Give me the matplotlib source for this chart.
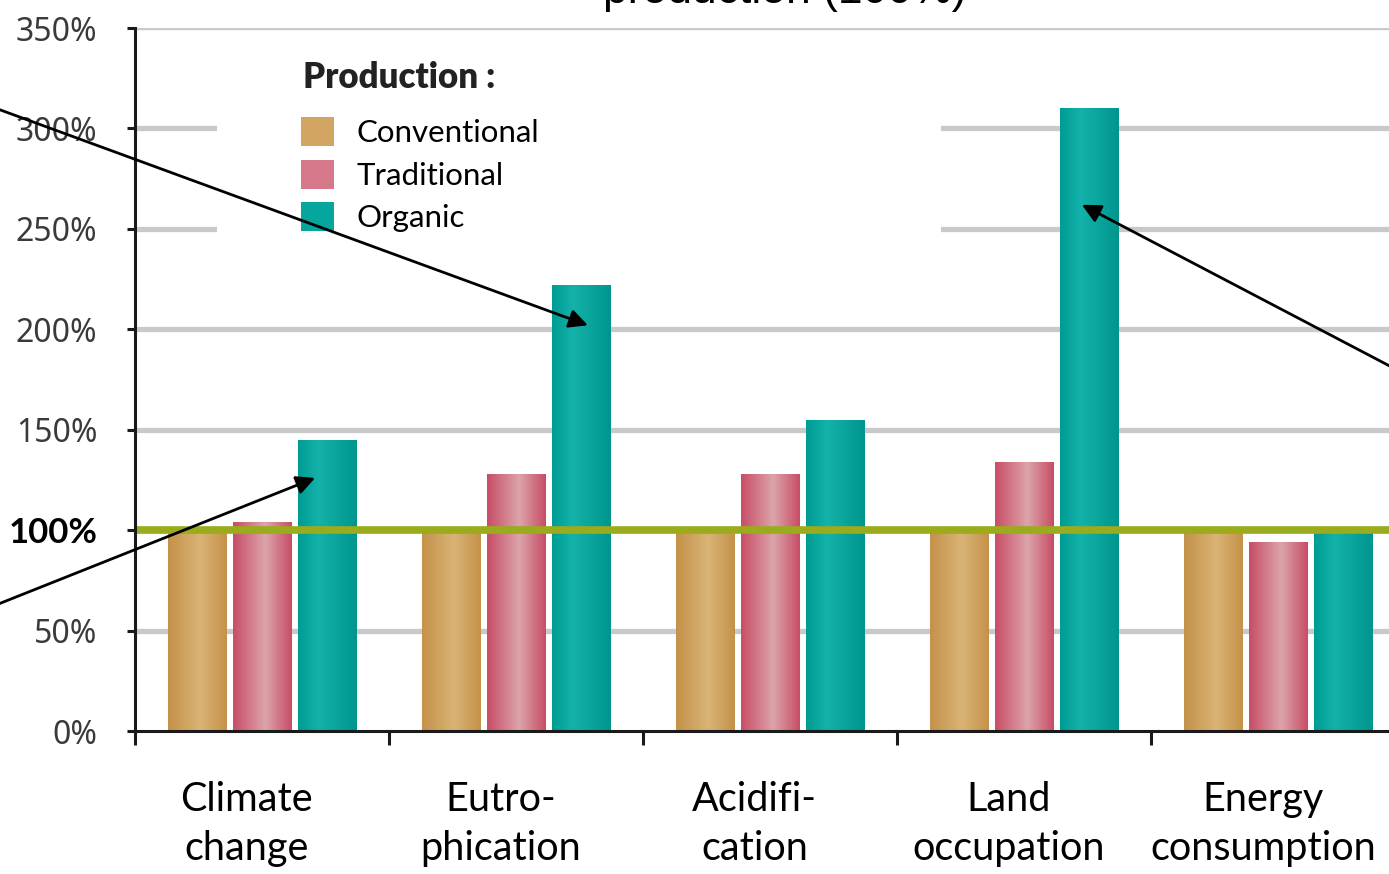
import matplotlib
matplotlib.use("Agg")
import matplotlib.pyplot as plt
import numpy as np
from matplotlib.colors import LinearSegmentedColormap
from matplotlib.patches import Rectangle, Patch

categories = ["Climate\nchange", "Eutro-\nphication", "Acidifi-\ncation",
              "Land\noccupation", "Energy\nconsumption"]
series = ["Conventional", "Traditional", "Organic"]
conventional = [100, 100, 100, 100, 100]
traditional = [104, 128, 128, 134, 94]
organic = [145, 222, 155, 310, 100]
yticks = [0, 50, 100, 150, 200, 250, 300, 350]
ytick_labels = ["0%", "50%", "100%", "150%", "200%", "250%", "300%", "350%"]

# gradient colours for each series: edge, highlight, edge, highlight position
grad = {
    "Conventional": ("#c4924a", "#dab476", "#c4924a", 0.55),
    "Traditional": ("#c84e66", "#dca4ab", "#c84e66", 0.55),
    "Organic": ("#009c94", "#14b2aa", "#00968e", 0.35),
}
flat = {"Conventional": "#d2a662", "Traditional": "#d4788a", "Organic": "#04a69e"}

fig = plt.figure(figsize=(13.89, 8.74), dpi=100)
ax = fig.add_axes([0.0972, 0.1636, 1 - 0.0972, 0.8043])

x = np.arange(len(categories))
width = 0.232
step = 0.256
values = [conventional, traditional, organic]

# gridlines
for yv in yticks[1:]:
    if yv == 100:
        continue
    ax.axhline(yv, color="#c8c9cb", lw=3.8 if yv < 350 else 2.5, zorder=0.5)

# white box behind the legend hides part of the grid
ax.add_patch(Rectangle((0.0654, 0.67), 0.577, 0.312, transform=ax.transAxes,
                       facecolor="white", edgecolor="none", zorder=0.8))

for i, (name, vals) in enumerate(zip(series, values)):
    bars = ax.bar(x + (i - 1) * step, vals, width=width, color=flat[name],
                  zorder=2, linewidth=0)
    c0, c1, c2, pk = grad[name]
    cmap = LinearSegmentedColormap.from_list(name, [(0, c0), (pk, c1), (1, c2)])
    g = np.linspace(0, 1, 64).reshape(1, -1)
    for b in bars:
        im = ax.imshow(g, cmap=cmap, aspect="auto", zorder=2.1,
                       extent=[b.get_x(), b.get_x() + b.get_width(), 0, b.get_height()])
        im.set_clip_path(b)

# 100 % reference line
ax.axhline(100, color="#9aab1c", lw=5.5, zorder=3)

for s in ["top", "right"]:
    ax.spines[s].set_visible(False)
for s in ["left", "bottom"]:
    ax.spines[s].set_linewidth(2.2)
    ax.spines[s].set_color("#1a1a1a")
    ax.spines[s].set_zorder(4)

ax.set_yticks(yticks)
ylabels = ax.set_yticklabels(ytick_labels, family=["Noto Sans", "DejaVu Sans"],
                             fontsize=23, color="#3a3a3a")
ax.tick_params(axis="y", length=6, width=2.2, pad=21, color="#1a1a1a")
ylabels[2].set_fontfamily(["Lato", "DejaVu Sans"])
ylabels[2].set_fontweight("bold")
ylabels[2].set_fontsize(25)
ylabels[2].set_color("black")

ax.set_xticks(np.arange(-0.5, 5, 1.0))
ax.set_xticklabels([])
ax.set_xticks(x - 0.06, minor=True)
ax.set_xticklabels(categories, minor=True, family=["Lato", "DejaVu Sans"],
                   fontsize=28.5, linespacing=1.4)
ax.tick_params(axis="x", which="major", length=10, width=2.2, color="#1a1a1a")
ax.tick_params(axis="x", which="minor", length=0, pad=36)

ax.set_xlim(-0.5, 4.437)
ax.set_ylim(0, 350)

handles = [Patch(facecolor=flat[n], edgecolor="none") for n in series]
leg = ax.legend(handles, series, loc="upper left", bbox_to_anchor=(0.1325, 0.873),
                frameon=False,
                prop={"family": ["Lato", "DejaVu Sans"], "size": 22.5},
                handlelength=1.05, handleheight=1.05, handletextpad=0.72,
                labelspacing=0.39, borderaxespad=0, borderpad=0)
leg.set_zorder(5)
ax.text(0.134, 0.930, "Production :", transform=ax.transAxes, ha="left",
        va="center", family=["Lato", "DejaVu Sans"], fontweight="heavy",
        fontsize=25, color="#222222", zorder=5)

# partial title at top
fig.text(0.565, 0.9966, "production (100%)", ha="center", va="baseline",
         family=["Liberation Sans", "DejaVu Sans"], fontsize=32)

arrow = dict(arrowstyle="-|>", color="black", lw=2.0, mutation_scale=28,
             shrinkA=0, shrinkB=0)
ax.annotate("", xy=(1.283, 202), xycoords="data", xytext=(-0.02, 0.886),
            textcoords="figure fraction", arrowprops=arrow, annotation_clip=False,
            zorder=6)
ax.annotate("", xy=(0.209, 126), xycoords="data", xytext=(-0.02, 0.297),
            textcoords="figure fraction", arrowprops=arrow, annotation_clip=False,
            zorder=6)
ax.annotate("", xy=(3.228, 262), xycoords="data", xytext=(1.02, 0.565),
            textcoords="figure fraction", arrowprops=arrow, annotation_clip=False,
            zorder=6)

fig.savefig("out.png", dpi=100)
